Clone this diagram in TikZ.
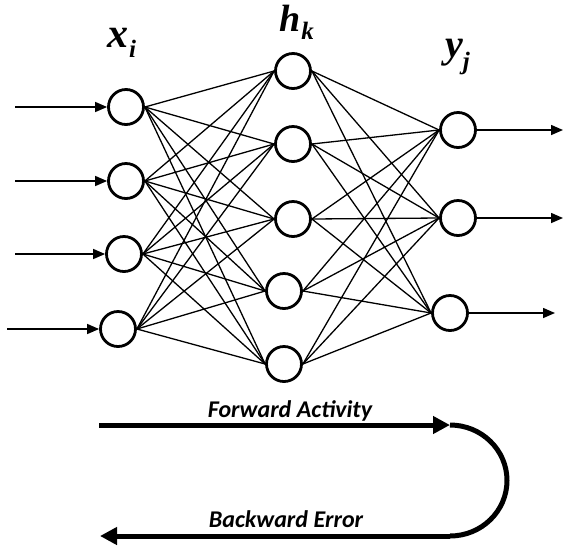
\documentclass[tikz,border=0pt]{standalone}
\usepackage{fontspec}
\setmainfont{Liberation Serif}
\newfontfamily\carlito{Carlito}
\usetikzlibrary{arrows.meta}
\begin{document}
\begin{tikzpicture}[x=1pt,y=-1pt,
  neuron/.style={circle,draw,line width=2.8pt,minimum size=35pt,inner sep=0pt},
  conn/.style={line width=1.3pt},
  inarrow/.style={line width=1.5pt,-{Triangle[length=12pt,width=10pt]}},
  bigarrow/.style={line width=5pt,-{Triangle[length=17pt,width=17pt]}},
  biglab/.style={font=\carlito\fontsize{24}{25}\selectfont\bfseries\itshape,inner sep=0pt},
  varlab/.style={inner sep=0pt,anchor=base west}]
\useasboundingbox (0,0) rectangle (565,550);
% input layer
\node[neuron] (i1) at (126,107) {};
\node[neuron] (i2) at (126,181) {};
\node[neuron] (i3) at (124,254) {};
\node[neuron] (i4) at (118,329) {};
% hidden layer
\node[neuron] (h1) at (293,71) {};
\node[neuron] (h2) at (293,144) {};
\node[neuron] (h3) at (293,219) {};
\node[neuron] (h4) at (284,291) {};
\node[neuron] (h5) at (284,364) {};
% output layer
\node[neuron] (o1) at (458,130) {};
\node[neuron] (o2) at (458,218) {};
\node[neuron] (o3) at (450,313) {};
% connections
\foreach \a in {1,2,3,4}{\foreach \b in {1,2,3,4,5}{\draw[conn] (i\a.east) -- (h\b.west);}}
\foreach \a in {1,2,3,4,5}{\foreach \b in {1,2,3}{\draw[conn] (h\a.east) -- (o\b.west);}}
% input / output arrows
\coordinate (s1) at (15,107);
\coordinate (s2) at (15,181);
\coordinate (s3) at (15,254);
\coordinate (s4) at (7,329);
\foreach \a in {1,2,3,4}{\draw[inarrow] (s\a) -- (i\a.west);}
\coordinate (e1) at (563,130);
\coordinate (e2) at (563,218);
\coordinate (e3) at (555,313);
\foreach \a in {1,2,3}{\draw[inarrow] (o\a.east) -- (e\a);}
% labels
\node[varlab] (lx) at (107,47) {{\fontsize{42}{42}\selectfont\bfseries\itshape x}\hspace{1pt}\raisebox{-10pt}{\fontsize{25}{25}\selectfont\bfseries\itshape i}};
\node[varlab] (lh) at (279,31) {{\fontsize{38}{38}\selectfont\bfseries\itshape h}\hspace{1pt}\raisebox{-8pt}{\fontsize{25}{25}\selectfont\bfseries\itshape k}};
\node[varlab] (ly) at (445,57) {{\fontsize{40}{40}\selectfont\bfseries\itshape y}\raisebox{-12pt}{\fontsize{25}{25}\selectfont\bfseries\itshape j}};
% forward / backward
\coordinate (fa) at (99,425);
\coordinate (fb) at (450,425);
\coordinate (bb) at (450,536);
\coordinate (ba) at (100,536);
\draw[bigarrow] (fa) -- (fb);
\draw[line width=5pt] (fb) arc[start angle=-90,end angle=90,x radius=57,y radius=55.5];
\draw[bigarrow] (bb) -- (ba);
\node[biglab,anchor=base] (tf) at (290,417) {Forward Activity};
\node[biglab,anchor=base] (tb) at (286,527) {Backward Error};
\end{tikzpicture}
\end{document}
